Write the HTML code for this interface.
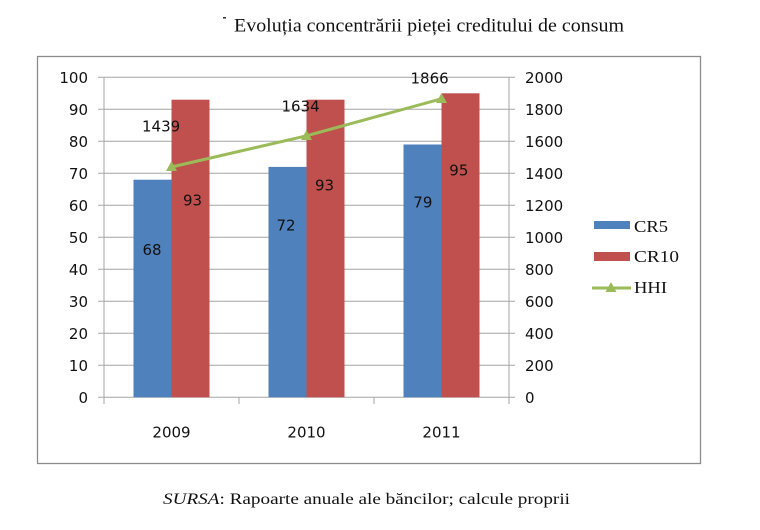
<!DOCTYPE html>
<html><head><meta charset="utf-8"><style>
html,body{margin:0;padding:0;background:#fff;}
svg{display:block;}
</style></head><body>
<svg width="760" height="530" viewBox="0 0 760 530" xmlns="http://www.w3.org/2000/svg">
<rect width="760" height="530" fill="#fff"/>
<!-- title -->
<rect x="223" y="17" width="3" height="1.5" fill="#333"/>
<text x="234" y="31.5" font-family="Liberation Serif, serif" font-size="19" fill="#111" textLength="390" lengthAdjust="spacingAndGlyphs">Evoluția concentrării pieței creditului de consum</text>
<!-- frame -->
<rect x="37.5" y="56.5" width="663" height="407" fill="#fff" stroke="#8c8c8c" stroke-width="1.3"/>
<!-- gridlines -->
<g stroke="#a6a6a6" stroke-width="1">
<line x1="98" y1="77.3" x2="515" y2="77.3"/>
<line x1="98" y1="109.3" x2="515" y2="109.3"/>
<line x1="98" y1="141.3" x2="515" y2="141.3"/>
<line x1="98" y1="173.3" x2="515" y2="173.3"/>
<line x1="98" y1="205.3" x2="515" y2="205.3"/>
<line x1="98" y1="237.3" x2="515" y2="237.3"/>
<line x1="98" y1="269.3" x2="515" y2="269.3"/>
<line x1="98" y1="301.3" x2="515" y2="301.3"/>
<line x1="98" y1="333.3" x2="515" y2="333.3"/>
<line x1="98" y1="365.3" x2="515" y2="365.3"/>
<line x1="98" y1="397.3" x2="515" y2="397.3"/>
<line x1="104" y1="77.3" x2="104" y2="397.3"/>
<line x1="509" y1="77.3" x2="509" y2="397.3"/>
<line x1="104" y1="397.3" x2="104" y2="404"/>
<line x1="239" y1="397.3" x2="239" y2="404"/>
<line x1="374" y1="397.3" x2="374" y2="404"/>
<line x1="509" y1="397.3" x2="509" y2="404"/>
</g>
<!-- bars -->
<g>
<rect x="133.5" y="179.7" width="38" height="217.6" fill="#4f81bd"/>
<rect x="171.5" y="99.7" width="38" height="297.6" fill="#c0504d"/>
<rect x="268.5" y="166.9" width="38" height="230.4" fill="#4f81bd"/>
<rect x="306.5" y="99.7" width="38" height="297.6" fill="#c0504d"/>
<rect x="403.5" y="144.5" width="38" height="252.8" fill="#4f81bd"/>
<rect x="441.5" y="93.3" width="38" height="304" fill="#c0504d"/>
</g>
<!-- HHI line -->
<polyline points="171.5,167 306.5,135.8 441.5,98.8" fill="none" stroke="#9bbb59" stroke-width="3"/>
<g fill="#9bbb59">
<polygon points="171.5,161 166,171 177,171"/>
<polygon points="306.5,130 301,140 312,140"/>
<polygon points="441.5,93 436,103 447,103"/>
</g>
<!-- left axis labels -->
<g font-family="DejaVu Sans, sans-serif" font-size="15" fill="#111" text-anchor="end">
<text x="88" y="83">100</text>
<text x="88" y="115">90</text>
<text x="88" y="147">80</text>
<text x="88" y="179">70</text>
<text x="88" y="211">60</text>
<text x="88" y="243">50</text>
<text x="88" y="275">40</text>
<text x="88" y="307">30</text>
<text x="88" y="339">20</text>
<text x="88" y="371">10</text>
<text x="88" y="403">0</text>
</g>
<!-- right axis labels -->
<g font-family="DejaVu Sans, sans-serif" font-size="15" fill="#111">
<text x="525" y="83">2000</text>
<text x="525" y="115">1800</text>
<text x="525" y="147">1600</text>
<text x="525" y="179">1400</text>
<text x="525" y="211">1200</text>
<text x="525" y="243">1000</text>
<text x="525" y="275">800</text>
<text x="525" y="307">600</text>
<text x="525" y="339">400</text>
<text x="525" y="371">200</text>
<text x="525" y="403">0</text>
</g>
<!-- x labels -->
<g font-family="DejaVu Sans, sans-serif" font-size="15" fill="#111" text-anchor="middle">
<text x="171.5" y="437.5">2009</text>
<text x="306.5" y="437.5">2010</text>
<text x="441.5" y="437.5">2011</text>
</g>
<!-- data labels -->
<g font-family="DejaVu Sans, sans-serif" font-size="15" fill="#111">
<text x="142" y="131.7">1439</text>
<text x="281.5" y="111.7">1634</text>
<text x="410.5" y="83.3">1866</text>
<text x="142.5" y="255">68</text>
<text x="183" y="205.5">93</text>
<text x="276.5" y="230.7">72</text>
<text x="315" y="190.7">93</text>
<text x="413.3" y="207.3">79</text>
<text x="449.3" y="175.7">95</text>
</g>
<!-- legend -->
<rect x="594" y="221" width="36" height="8" fill="#4f81bd"/>
<rect x="594" y="252" width="36" height="9" fill="#c0504d"/>
<line x1="592" y1="288" x2="631" y2="288" stroke="#9bbb59" stroke-width="3"/>
<polygon points="611,282 605.5,292 616.5,292" fill="#9bbb59"/>
<g font-family="Liberation Serif, serif" font-size="17" fill="#111">
<text x="634" y="232" textLength="34" lengthAdjust="spacingAndGlyphs">CR5</text>
<text x="634" y="262" textLength="45" lengthAdjust="spacingAndGlyphs">CR10</text>
<text x="634" y="293" textLength="33" lengthAdjust="spacingAndGlyphs">HHI</text>
</g>
<!-- source -->
<text x="163" y="504" font-family="Liberation Serif, serif" font-size="16" fill="#111" textLength="407" lengthAdjust="spacingAndGlyphs"><tspan font-style="italic">SURSA</tspan>: Rapoarte anuale ale băncilor; calcule proprii</text>
</svg>
</body></html>
